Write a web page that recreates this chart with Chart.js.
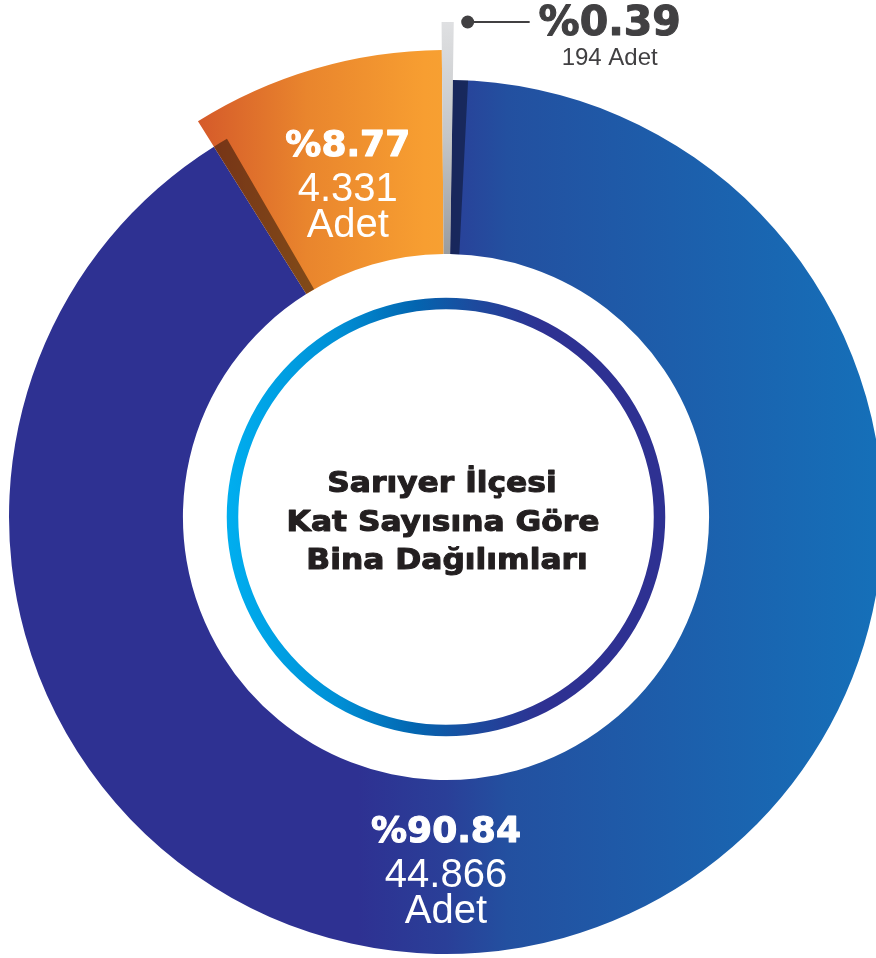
<!DOCTYPE html>
<html><head><meta charset="utf-8">
<script src="https://cdn.jsdelivr.net/npm/chart.js@4/dist/chart.umd.min.js"></script>
<style>html,body{margin:0;padding:0;background:#fff;overflow:hidden}#wrap{width:876px;height:958px}</style>
</head><body><div id="wrap"><canvas id="c" width="876" height="958"></canvas></div>
<script>
// ---- data ----
const categories = ['Grup 1', 'Grup 2', 'Grup 3'];
const buildingCounts = [44866, 4331, 194];
const percentLabels = ['%90.84', '%8.77', '%0.39'];
const countLabels = ['44.866', '4.331', '194'];
const unitLabel = 'Adet';
const titleLines = ['Sarıyer İlçesi', 'Kat Sayısına Göre', 'Bina Dağılımları'];

// ---- style ----
const RADIUS = 437;
const CUT = 0.602;
const extraOuter = [0, 30, 58];
const HEAVY = '"DejaVu Sans", sans-serif';
const REG = '"Liberation Sans", Arial, sans-serif';

function geom(chart) {
  const a = chart.chartArea;
  return {cx: (a.left + a.right) / 2, cy: (a.top + a.bottom) / 2, R: RADIUS, r: RADIUS * CUT};
}

function fillFor(ctx) {
  const chart = ctx.chart, i = ctx.dataIndex;
  if (!chart.chartArea) return '#2e3192';
  const {cx, cy, R, r} = geom(chart);
  const g = chart.ctx;
  let gr;
  if (i === 0) {
    gr = g.createLinearGradient(cx - R, 0, cx + R, 0);
    gr.addColorStop(0, '#2e3192');
    gr.addColorStop(0.40, '#2e3192');
    gr.addColorStop(0.50, '#2a3f98');
    gr.addColorStop(0.57, '#2350a0');
    gr.addColorStop(1, '#1570b9');
  } else if (i === 1) {
    gr = g.createLinearGradient(cx - R, 0, cx, 0);
    gr.addColorStop(0, '#d4582a');
    gr.addColorStop(0.42, '#d4582a');
    gr.addColorStop(0.68, '#e9852d');
    gr.addColorStop(0.95, '#f79e31');
    gr.addColorStop(1, '#f7a032');
  } else {
    gr = g.createLinearGradient(0, cy - R - extraOuter[2], 0, cy - r);
    gr.addColorStop(0, '#dfe0e2');
    gr.addColorStop(0.5, '#c4c6c8');
    gr.addColorStop(1, '#9a9c9f');
  }
  return gr;
}

function heavyText(g, text, x, y, size, color, sx) {
  g.save();
  g.translate(x, y);
  g.scale(sx, 1);
  g.font = 'bold ' + size + 'px ' + HEAVY;
  g.textAlign = 'center';
  g.textBaseline = 'alphabetic';
  g.fillStyle = color;
  g.strokeStyle = color;
  g.lineWidth = 1.1;
  g.lineJoin = 'round';
  g.fillText(text, 0, 0);
  g.strokeText(text, 0, 0);
  g.restore();
}

const decorPlugin = {
  id: 'decor',
  afterDatasetUpdate(chart, args) {
    args.meta.data.forEach((arc, i) => { arc.outerRadius += extraOuter[i] || 0; });
  },
  afterDatasetsDraw(chart) {
    const g = chart.ctx;
    const {cx, cy, R, r} = geom(chart);
    const arcs = chart.getDatasetMeta(0).data;
    const band = 2 * Math.PI / 180;
    // shadow bands
    g.save();
    [[0, 'rgba(0,0,0,0.40)'], [1, 'rgba(0,0,0,0.45)']].forEach(([i, col]) => {
      const s = arcs[i].startAngle;
      g.beginPath();
      g.arc(cx, cy, R, s, s + band);
      g.arc(cx, cy, r, s + band, s, true);
      g.closePath();
      g.fillStyle = col;
      g.fill();
    });
    g.restore();

    // inner gradient ring
    g.save();
    const rr = 213.5;
    const lg = g.createLinearGradient(cx - 219, 0, cx + 219, 0);
    lg.addColorStop(0, '#00aeef');
    lg.addColorStop(0.25, '#0090d6');
    lg.addColorStop(0.43, '#0365b0');
    lg.addColorStop(0.56, '#1c4b9e');
    lg.addColorStop(0.72, '#2e3192');
    lg.addColorStop(1, '#2e3192');
    g.strokeStyle = lg;
    g.lineWidth = 11.5;
    g.beginPath();
    g.arc(cx, cy, rr, 0, Math.PI * 2);
    g.stroke();
    g.restore();

    // center title
    const tdy = [-25, 14, 52];
    const tdx = [-4, -3, 1];
    titleLines.forEach((t, k) => heavyText(g, t, cx + tdx[k], cy + tdy[k], 29, '#231f20', 1.08));

    // segment labels
    const mid = (r + R) / 2;
    const ldy = [-25.5, 19.5, 56];
    for (let i = 0; i < 2; i++) {
      const arc = arcs[i];
      let ang = (arc.startAngle + arc.endAngle) / 2;
      if (arc.endAngle - arc.startAngle > Math.PI) ang = Math.PI / 2;
      const x = cx + Math.cos(ang) * mid;
      const y = cy + Math.sin(ang) * mid;
      heavyText(g, percentLabels[i], x, y + ldy[0], 36, '#ffffff', 1.0);
      g.save();
      g.fillStyle = '#ffffff';
      g.textAlign = 'center';
      g.font = '40px ' + REG;
      g.fillText(countLabels[i], x, y + ldy[1]);
      g.fillText(unitLabel, x, y + ldy[2]);
      g.restore();
    }
    // small segment: leader + label
    const sa = arcs[2];
    const ma = (sa.startAngle + sa.endAngle) / 2;
    const tx = cx + Math.cos(ma) * sa.outerRadius;
    const ty = cy + Math.sin(ma) * sa.outerRadius;
    g.save();
    g.fillStyle = '#414042';
    g.strokeStyle = '#414042';
    g.lineWidth = 2;
    g.beginPath();
    g.arc(tx + 20, ty, 6.5, 0, Math.PI * 2);
    g.fill();
    g.beginPath();
    g.moveTo(tx + 20, ty);
    g.lineTo(tx + 82, ty);
    g.stroke();
    g.textAlign = 'center';
    g.font = '24px ' + REG;
    g.fillText(countLabels[2] + ' ' + unitLabel, tx + 162, ty + 43);
    g.restore();
    heavyText(g, percentLabels[2], tx + 162, ty + 13, 41, '#414042', 1.0);
  }
};

new Chart(document.getElementById('c'), {
  type: 'doughnut',
  data: {
    labels: categories,
    datasets: [{
      data: buildingCounts,
      backgroundColor: fillFor,
      borderWidth: 0,
      clip: false
    }]
  },
  options: {
    responsive: false,
    animation: false,
    events: [],
    rotation: 0.9,
    radius: RADIUS,
    cutout: (CUT * 100) + '%',
    layout: {padding: {left: 16, right: 0, top: 76, bottom: 0}},
    plugins: {legend: {display: false}, tooltip: {enabled: false}}
  },
  plugins: [decorPlugin]
});
</script>
</body></html>
